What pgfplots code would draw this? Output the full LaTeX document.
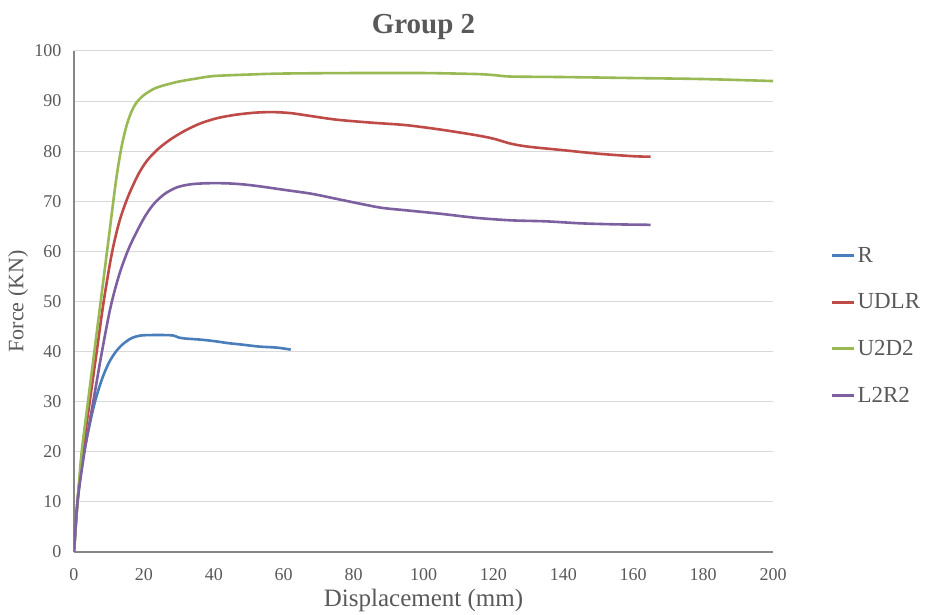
\documentclass[border=0pt]{standalone}
\usepackage{pgfplots}
\pgfplotsset{compat=1.18}
\usepackage{fontspec}
\setmainfont{Liberation Serif}
\definecolor{txt}{HTML}{595959}
\definecolor{cR}{HTML}{4A7EBB}
\definecolor{cUDLR}{HTML}{BE4B48}
\definecolor{cU2D2}{HTML}{98B954}
\definecolor{cL2R2}{HTML}{7D60A0}
\definecolor{grid}{HTML}{D9D9D9}
\definecolor{axl}{HTML}{868686}
\begin{document}
\begin{tikzpicture}
\begin{axis}[name=ax,
  width=699pt, height=501pt, scale only axis,
  xmin=0, xmax=200, ymin=0, ymax=100,
  xtick={0,20,...,200}, ytick={0,10,...,100},
  axis x line*=bottom, axis y line*=left,
  axis line style={-, draw=axl, line width=1.2pt},
  major tick length=0pt,
  ymajorgrids, grid style={draw=grid, line width=1pt},
  tick label style={font=\fontsize{18}{18}\selectfont, text=txt},
  /pgf/number format/assume math mode=true,
  xticklabel style={yshift=-13pt},
  yticklabel style={xshift=-9pt},
  xlabel={Displacement (mm)}, ylabel={Force (KN)},
  xlabel style={font=\fontsize{25}{25}\selectfont, text=txt, at={(axis description cs:0.5,-0.096)}, anchor=center},
  ylabel style={font=\fontsize{22}{22}\selectfont, text=txt, at={(axis description cs:-0.08,0.5)}, anchor=center},
  title={Group 2},
  title style={font=\fontsize{29}{29}\selectfont\bfseries, text=txt, at={(axis description cs:0.5,1)}, anchor=center, yshift=18pt},
  legend style={at={(axis description cs:1.082,0.452)}, anchor=west, draw=none, fill=none,
    font=\fontsize{23}{23}\selectfont, text=txt, row sep=26pt, inner sep=0pt},
  legend cell align=left,
  legend image code/.code={\draw[#1, line width=3pt] (0pt,0pt) -- (22pt,0pt);},
  every axis plot/.append style={line width=2.6pt, line join=round, smooth, tension=0.5},
]
\addplot[cR] coordinates {(0,0)(1,10)(2.5,18.5)(4.5,25.5)(6,30)(8,34.5)(10,37.8)(12,40)(14,41.5)(16.5,42.7)(19,43.2)(22,43.3)(26,43.3)(28.5,43.2)(30,42.8)(32,42.6)(36,42.4)(40,42.1)(44,41.7)(48,41.4)(53,41.0)(58,40.8)(62,40.4)};
\addlegendentry{R}
\addplot[cUDLR] coordinates {(0,0)(1,10)(2.5,20)(4.5,30)(6.5,40)(8.5,50)(10.8,59.5)(13,66)(15.5,71)(18.5,75.5)(21,78.2)(24,80.4)(27.5,82.3)(31.5,84)(36,85.5)(41,86.6)(46.5,87.3)(52,87.7)(57,87.8)(62,87.6)(67,87.1)(75,86.3)(85,85.7)(95,85.2)(105,84.3)(115,83.2)(120,82.5)(125,81.5)(130,80.9)(140,80.2)(150,79.5)(160,79.0)(165,78.9)};
\addlegendentry{UDLR}
\addplot[cU2D2] coordinates {(0,0)(1,10)(2.2,20)(4,30)(6,41)(8,52)(10,63)(12,74)(13.5,80.5)(15,85)(16.5,88)(18,89.8)(20,91.2)(23,92.5)(26,93.2)(30,93.9)(35,94.5)(40,95)(50,95.3)(60,95.5)(80,95.6)(100,95.6)(115,95.4)(120,95.2)(125,94.9)(140,94.8)(160,94.6)(180,94.4)(200,94.0)};
\addlegendentry{U2D2}
\addplot[cL2R2] coordinates {(0,0)(1,10)(3,20)(5.5,30)(8,40)(10.5,49)(13,55.5)(15.5,60.3)(18,64)(20.5,67.2)(23,69.6)(26,71.5)(29.5,72.8)(33.5,73.4)(38,73.6)(43,73.6)(48,73.4)(53,73)(60,72.3)(68,71.5)(75,70.5)(82,69.5)(88,68.7)(95,68.2)(105,67.5)(115,66.7)(125,66.2)(135,66)(145,65.6)(155,65.4)(165,65.3)};
\addlegendentry{L2R2}
\end{axis}
\path ([shift={(-74pt,-62pt)}]ax.south west) rectangle ([shift={(158pt,51pt)}]ax.north east);
\end{tikzpicture}
\end{document}
